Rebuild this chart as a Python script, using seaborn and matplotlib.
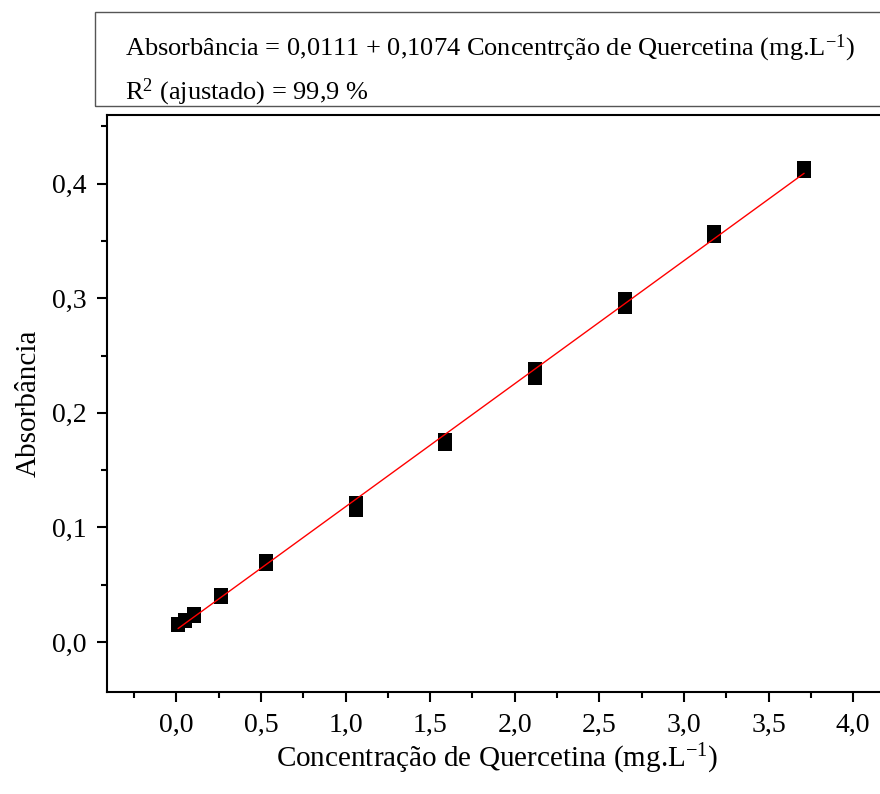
import matplotlib
matplotlib.use("Agg")
import matplotlib.pyplot as plt
import seaborn as sns
import pandas as pd
from matplotlib.ticker import MultipleLocator, FuncFormatter
from matplotlib.patches import Rectangle

# Data
concentracao = [0.01, 0.01, 0.053, 0.053, 0.106, 0.106, 0.265, 0.265,
                0.53, 0.53, 1.06, 1.06, 1.59, 1.59, 2.12, 2.12,
                2.65, 2.65, 3.18, 3.18, 3.71, 3.71]
absorbancia = [0.015, 0.016, 0.018, 0.019, 0.023, 0.024, 0.039, 0.041,
               0.068, 0.071, 0.115, 0.121, 0.173, 0.176, 0.230, 0.238,
               0.292, 0.299, 0.354, 0.358, 0.411, 0.414]
eq_text = "Absorbância = 0,0111 + 0,1074 Concentrção de Quercetina (mg.L$^{-1}$)"
r2_text = "R$^{2}$ (ajustado) = 99,9 %"
xlabel = "Concentração de Quercetina (mg.L$^{-1}$)"
ylabel = "Absorbância"

df = pd.DataFrame({"x": concentracao, "y": absorbancia})

sns.set_style("ticks")
plt.rcParams["font.family"] = ["Liberation Serif", "DejaVu Serif"]
plt.rcParams["mathtext.fontset"] = "custom"
plt.rcParams["mathtext.rm"] = "Liberation Serif"
plt.rcParams["mathtext.it"] = "Liberation Serif:italic"
plt.rcParams["mathtext.bf"] = "Liberation Serif:bold"
plt.rcParams["text.color"] = "black"
plt.rcParams["axes.labelcolor"] = "black"

fig = plt.figure(figsize=(8.8, 7.94), dpi=100)
ax = fig.add_axes([107 / 880, 102 / 794, (887 - 107) / 880, (692 - 115) / 794])

sns.scatterplot(data=df, x="x", y="y", marker="s", s=100, color="black",
                edgecolor="black", linewidth=0, ax=ax, zorder=2)
sns.regplot(data=df, x="x", y="y", scatter=False, ci=None, color="red",
            line_kws={"linewidth": 1.0, "zorder": 3}, ax=ax)

ax.set_xlim(-0.41, 4.2)
ax.set_ylim(-0.0437, 0.46)
ax.xaxis.set_major_locator(MultipleLocator(0.5))
ax.xaxis.set_minor_locator(MultipleLocator(0.25))
ax.yaxis.set_major_locator(MultipleLocator(0.1))
ax.yaxis.set_minor_locator(MultipleLocator(0.05))
fmt = FuncFormatter(lambda v, p: f"{v:.1f}".replace(".", ",").replace("-0,0", "0,0"))
ax.xaxis.set_major_formatter(fmt)
ax.yaxis.set_major_formatter(fmt)
ax.tick_params(axis="both", which="major", direction="out", length=7, width=1.5,
               labelsize=20, pad=8, colors="black")
ax.tick_params(axis="both", which="minor", direction="out", length=4, width=1.5,
               colors="black")
ax.tick_params(top=False, right=False, which="both")
for s in ax.spines.values():
    s.set_linewidth(1.5)
    s.set_color("black")

ax.set_xlabel(xlabel, fontsize=21, labelpad=3, color="black")
ax.set_ylabel(ylabel, fontsize=21, labelpad=7, color="black")

# Equation box
fig.patches.append(Rectangle((95 / 880, 1 - 106 / 794), (900 - 95) / 880, (106 - 12) / 794,
                             transform=fig.transFigure, fill=False,
                             edgecolor="#555555", linewidth=1.0))
fig.text(125 / 880, 1 - 55 / 794, eq_text, fontsize=19, ha="left", va="baseline")
fig.text(125 / 880, 1 - 99 / 794, r2_text, fontsize=19, ha="left", va="baseline")

fig.savefig("out.png", dpi=100)
